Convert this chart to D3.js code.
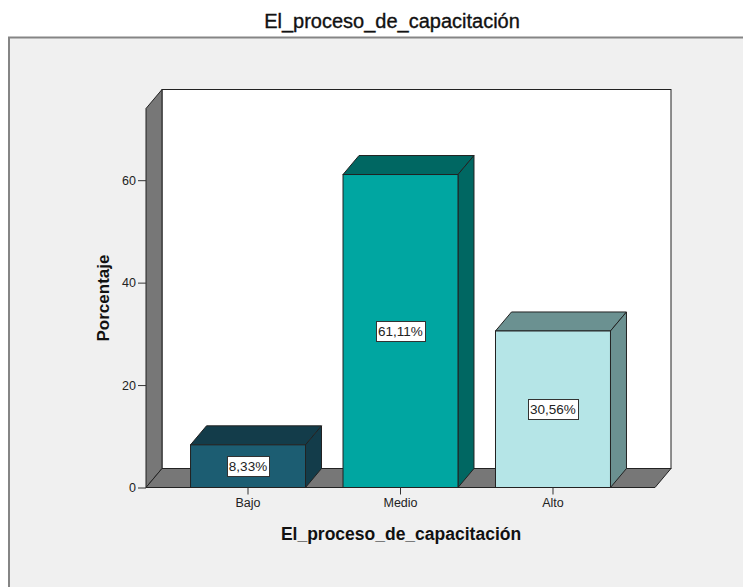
<!DOCTYPE html>
<html>
<head>
<meta charset="utf-8">
<script src="https://cdn.jsdelivr.net/npm/d3@7"></script>
<style>
  body { margin: 0; background: #ffffff; }
  svg text { font-family: "Liberation Sans", Arial, sans-serif; }
</style>
</head>
<body>
<svg id="chart" width="743" height="587"></svg>
<script>
// Frequency of answers for "El_proceso_de_capacitación" (percent)
const categories = ["Bajo", "Medio", "Alto"];
const percentages = [8.33, 61.11, 30.56];
const valueLabels = ["8,33%", "61,11%", "30,56%"];
const yTicks = [0, 20, 40, 60];

// face colours (front) and shaded colours (top / side) per category
const frontColors = ["#1c5d72", "#00a6a1", "#b5e5e7"];
const shadeColors = ["#133c4a", "#006762", "#6b9191"];

const svg = d3.select("#chart");

// outer panel
svg.append("rect")
  .attr("x", 9).attr("y", 37.5)
  .attr("width", 800).attr("height", 600)
  .attr("fill", "#f0f0f0")
  .attr("stroke", "#858585").attr("stroke-width", 2);

// scales
const x = d3.scaleBand().domain(categories)
  .range([146, 655]).paddingInner(0.246).paddingOuter(0.292);
const y = d3.scaleLinear().domain([0, 74]).range([487.5, 108.5]);

const dx = 16, dy = 19;           // 3D depth offset
const x0 = 146, x1 = 655;
const y0 = y(0), yTop = y(74);
const line = d3.line();
const edge = "#222222";

// back wall
svg.append("rect")
  .attr("x", x0 + dx).attr("y", yTop - dy)
  .attr("width", x1 - x0).attr("height", y0 - yTop)
  .attr("fill", "#ffffff").attr("stroke", edge);

// left wall
svg.append("path")
  .attr("d", line([[x0, yTop], [x0 + dx, yTop - dy], [x0 + dx, y0 - dy], [x0, y0]]) + "Z")
  .attr("fill", "#777777").attr("stroke", edge);

// floor
svg.append("path")
  .attr("d", line([[x0, y0], [x0 + dx, y0 - dy], [x1 + dx, y0 - dy], [x1, y0]]) + "Z")
  .attr("fill", "#777777").attr("stroke", edge);

// bars
const bw = x.bandwidth();
const bars = svg.append("g").selectAll("g")
  .data(categories.map((c, i) => ({ c, v: percentages[i], label: valueLabels[i], i })))
  .join("g");

bars.append("path") // top face
  .attr("d", d => {
    const xl = x(d.c), yv = y(d.v);
    return line([[xl, yv], [xl + dx, yv - dy], [xl + bw + dx, yv - dy], [xl + bw, yv]]) + "Z";
  })
  .attr("fill", d => shadeColors[d.i]).attr("stroke", edge);

bars.append("path") // side face
  .attr("d", d => {
    const xr = x(d.c) + bw, yv = y(d.v);
    return line([[xr, yv], [xr + dx, yv - dy], [xr + dx, y0 - dy], [xr, y0]]) + "Z";
  })
  .attr("fill", d => shadeColors[d.i]).attr("stroke", edge);

bars.append("rect") // front face
  .attr("x", d => x(d.c)).attr("y", d => y(d.v))
  .attr("width", bw).attr("height", d => y0 - y(d.v))
  .attr("fill", d => frontColors[d.i]).attr("stroke", edge);

// value labels in white boxes
bars.each(function (d) {
  const g = d3.select(this);
  const cx = x(d.c) + bw / 2, cy = (y(d.v) + y0) / 2;
  const box = g.append("rect").attr("fill", "#ffffff").attr("stroke", "#333333");
  const t = g.append("text")
    .attr("x", cx).attr("y", cy)
    .attr("text-anchor", "middle").attr("dominant-baseline", "central")
    .attr("font-size", 13.5).attr("fill", "#222222")
    .text(d.label);
  const b = t.node().getBBox();
  box.attr("x", Math.round(b.x - 2) + 0.5).attr("y", Math.round(cy - 10) + 0.5)
    .attr("width", Math.round(b.width + 4)).attr("height", 20);
});

// y axis
const yAxis = svg.append("g")
  .attr("transform", `translate(${x0},0)`)
  .call(d3.axisLeft(y).tickValues(yTicks).tickSize(8).tickPadding(2));
yAxis.select(".domain").remove();
yAxis.selectAll("line").attr("stroke", "#333333");
yAxis.selectAll("text").attr("font-size", 12.5).attr("fill", "#222222")
  .style("font-family", "\"Liberation Sans\", Arial, sans-serif");

// x axis
const xAxis = svg.append("g")
  .attr("transform", `translate(0,${y0})`)
  .call(d3.axisBottom(x).tickSize(7).tickPadding(4));
xAxis.select(".domain").remove();
xAxis.selectAll("line").attr("stroke", "#333333");
xAxis.selectAll("text").attr("font-size", 12.5).attr("fill", "#222222")
  .style("font-family", "\"Liberation Sans\", Arial, sans-serif");

// titles
svg.append("text")
  .attr("x", 392).attr("y", 28)
  .attr("text-anchor", "middle")
  .attr("font-size", 20).attr("fill", "#111111")
  .attr("stroke", "#111111").attr("stroke-width", 0.35)
  .text("El_proceso_de_capacitación");

svg.append("text")
  .attr("x", 401).attr("y", 540)
  .attr("text-anchor", "middle")
  .attr("font-size", 17.5).attr("font-weight", "bold").attr("fill", "#111111")
  .text("El_proceso_de_capacitación");

svg.append("text")
  .attr("transform", "translate(109,298) rotate(-90)")
  .attr("text-anchor", "middle")
  .attr("font-size", 17).attr("font-weight", "bold").attr("fill", "#111111")
  .text("Porcentaje");
</script>
</body>
</html>
